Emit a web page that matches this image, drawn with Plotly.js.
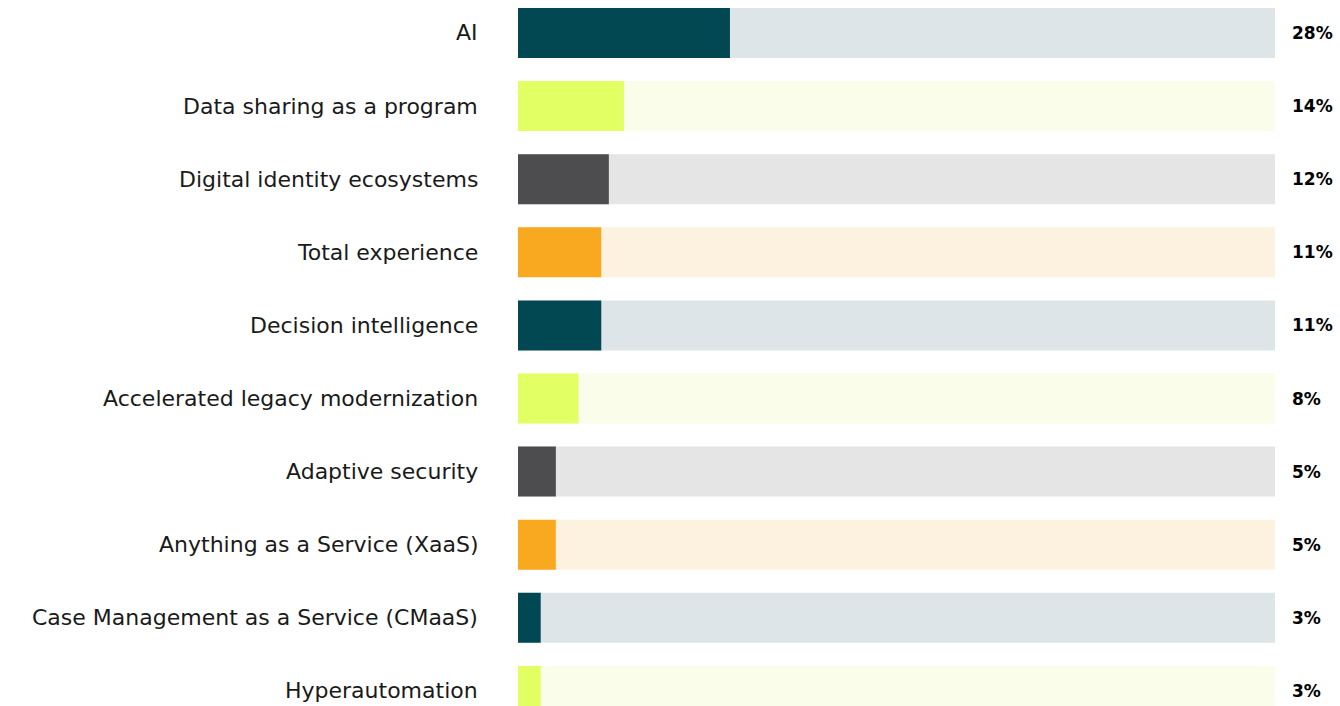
<!DOCTYPE html>
<html>
<head>
<meta charset="utf-8">
<script src="https://cdn.plot.ly/plotly-3.0.1.min.js"></script>
<style>html,body{margin:0;padding:0;background:#fff;}#chart{width:1340px;height:706px;}</style>
</head>
<body>
<div id="chart"></div>
<script>
const categories = ["AI","Data sharing as a program","Digital identity ecosystems","Total experience","Decision intelligence","Accelerated legacy modernization","Adaptive security","Anything as a Service (XaaS)","Case Management as a Service (CMaaS)","Hyperautomation"];
const values = [28,14,12,11,11,8,5,5,3,3];
const valueLabels = ["28%","14%","12%","11%","11%","8%","5%","5%","3%","3%"];
const totals = [100,100,100,100,100,100,100,100,100,100];

const strong = ["#024852","#e2ff63","#4d4d4f","#f9a920"];
const light = ["#dde5e8","#f9fde9","#e5e5e5","#fdf2e0"];
const fgColors = categories.map((c,i)=>strong[i%4]);
const bgColors = categories.map((c,i)=>light[i%4]);

const bg = {type:'bar', orientation:'h', y:categories, x:totals, marker:{color:bgColors}, width:0.684, hoverinfo:'skip', showlegend:false};
const fg = {type:'bar', orientation:'h', y:categories, x:values, marker:{color:fgColors}, width:0.684, showlegend:false};

const annotations = [];
categories.forEach((c,i)=>{
  annotations.push({x:0, y:c, xref:'x', yref:'y', text:c, showarrow:false, xanchor:'right', yanchor:'middle', xshift:-38,
    font:{family:'DejaVu Sans', size:22, color:'#1a1a1a'}});
  annotations.push({x:100, y:c, xref:'x', yref:'y', text:valueLabels[i], showarrow:false, xanchor:'left', yanchor:'middle', xshift:15,
    font:{family:'DejaVu Sans', size:17, color:'#000', weight:700}});
});

const layout = {
  width:1340, height:706,
  margin:{l:518, r:65, t:0, b:0, pad:0},
  barmode:'overlay',
  paper_bgcolor:'#fff', plot_bgcolor:'#fff',
  xaxis:{range:[0,100], visible:false, fixedrange:true},
  yaxis:{type:'category', categoryorder:'array', categoryarray:categories, range:[9.206,-0.451], visible:false, fixedrange:true},
  annotations:annotations
};
Plotly.newPlot('chart',[bg,fg],layout,{displayModeBar:false, staticPlot:true});
</script>
</body>
</html>
